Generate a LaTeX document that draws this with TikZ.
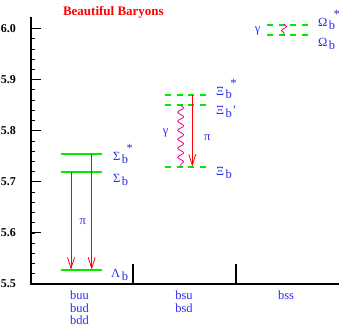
\documentclass[tikz,border=0pt]{standalone}
\usepackage{fontspec}
\setmainfont{Liberation Serif}
\usepackage{xcolor}
\usetikzlibrary{arrows.meta,decorations.pathmorphing}
\definecolor{levelgreen}{RGB}{0,235,0}
\definecolor{namecol}{RGB}{45,45,240}
\newcommand{\hadron}[2]{#1\kern1.5pt\raisebox{-3pt}{b}#2}
\newcommand{\excit}{\kern-1.5pt\raisebox{8.5pt}{*}}
\newcommand{\prim}{\kern0.5pt’}

\begin{document}
\begin{tikzpicture}[
    x=1pt, y=511pt,
    lvl/.style={draw=levelgreen, line width=2pt},
    lvldash/.style={lvl, dash pattern=on 6pt off 5.7pt},
    pion/.style={draw=red, line width=0.8pt, -{Straight Barb[length=11pt,width=7pt]}},
    photon/.style={draw=magenta, line width=0.8pt, decorate, decoration={snake, segment length=9pt, amplitude=3pt}},
    hadlab/.style={text=namecol, font=\fontsize{12.5}{14}\selectfont, inner sep=0pt, anchor=base west},
    ticklab/.style={font=\fontsize{12}{14}\selectfont\bfseries, inner sep=0pt, anchor=east},
    quarks/.style={text=namecol, font=\fontsize{12.5}{12.7}\selectfont, align=center, inner sep=0pt, anchor=north}
]
\useasboundingbox (0,5.41585) rectangle (343,6.05577);

\node[font=\fontsize{13}{14}\selectfont\bfseries, text=red, inner sep=0pt, anchor=base] (title) at (113.4,6.0245) {Beautiful Baryons};

% axes
\coordinate (orig) at (31,5.5);
\coordinate (ytop) at (31,6.0225);
\coordinate (xend) at (339,5.5);
\draw[line width=1.2pt] (ytop) -- (orig) -- (xend);
\foreach \i in {1,...,25}
    \draw[line width=0.7pt] (31,5.5+\i*0.02) -- ++(4,0);
\foreach \i/\lab in {0/5.5,1/5.6,2/5.7,3/5.8,4/5.9,5/6.0} {
    \draw[line width=1.2pt] (31,5.5+\i/10) -- ++(10,0);
    \node[ticklab] (tick\i) at (16,5.5+\i/10) {\lab};
}
\coordinate (divA) at (133,5.5);
\coordinate (divB) at (236,5.5);
\draw[line width=1.2pt] (divA) -- ++(0,0.0391);
\draw[line width=1.2pt] (divB) -- ++(0,0.0391);

% b q q levels
\coordinate (lamL) at (61,5.528);   \coordinate (lamR) at (102,5.528);
\coordinate (sigL) at (61,5.7192);  \coordinate (sigR) at (102,5.7192);
\coordinate (sigsL) at (61,5.7544); \coordinate (sigsR) at (102,5.7544);
\draw[lvl] (lamL) -- (lamR);
\draw[lvl] (sigL) -- (sigR);
\draw[lvl] (sigsL) -- (sigsR);
\coordinate (piA) at (71,5.7192);
\coordinate (piB) at (91.7,5.7544);
\draw[pion] (piA) -- (piA |- lamL);
\draw[pion] (piB) -- (piB |- lamL);

% b s q levels
\coordinate (xiL) at (165,5.7296);   \coordinate (xiR) at (205.7,5.7296);
\coordinate (xipL) at (165,5.8503);  \coordinate (xipR) at (205.7,5.8503);
\coordinate (xisL) at (165,5.8699);  \coordinate (xisR) at (205.7,5.8699);
\draw[lvldash] (xiL) -- (xiR);
\draw[lvldash] (xipL) -- (xipR);
\draw[lvldash] (xisL) -- (xisR);
\coordinate (gamA) at (180.7,5.8503);
\coordinate (piC) at (192.3,5.8699);
\draw[photon] (gamA) -- (gamA |- xiL);
\draw[pion] (piC) -- (piC |- xiL);

% b s s levels
\coordinate (omL) at (267,5.9873);  \coordinate (omR) at (310,5.9873);
\coordinate (omsL) at (267,6.0068); \coordinate (omsR) at (310,6.0068);
\draw[lvldash] (omL) -- (omR);
\draw[lvldash] (omsL) -- (omsR);
\coordinate (gamB) at (284,6.0088);
\coordinate (gamBend) at (284,5.9853);
\draw[photon, decoration={segment length=8pt, amplitude=2.5pt}] (gamB) -- (gamBend);

% names
\node[hadlab] (lamb) at (111,5.5117) {\hadron{Λ}{}};
\node[hadlab] (sigb) at (113,5.6977) {\hadron{Σ}{}};
\node[hadlab] (sigbs) at (113,5.7413) {\hadron{Σ}{\excit}};
\node[hadlab] (xib) at (216,5.7114) {\hadron{Ξ}{}};
\node[hadlab] (xibp) at (216,5.8307) {\hadron{Ξ}{\prim}};
\node[hadlab] (xibs) at (216,5.8679) {\hadron{Ξ}{\excit}};
\node[hadlab] (omb) at (318,5.9638) {\hadron{Ω}{}};
\node[hadlab] (ombs) at (318,6.0029) {\hadron{Ω}{\excit}};
\node[hadlab] (piLabA) at (79.3,5.6155) {π};
\node[hadlab] (gamLabA) at (162.7,5.7926) {γ};
\node[hadlab] (piLabB) at (204,5.7808) {π};
\node[hadlab] (gamLabB) at (254.7,5.9922) {γ};

\node[quarks] (qbuu) at (79.5,5.4872) {buu\\bud\\bdd};
\node[quarks] (qbsu) at (184,5.4872) {bsu\\bsd};
\node[quarks] (qbss) at (286,5.4872) {bss};
\end{tikzpicture}
\end{document}
